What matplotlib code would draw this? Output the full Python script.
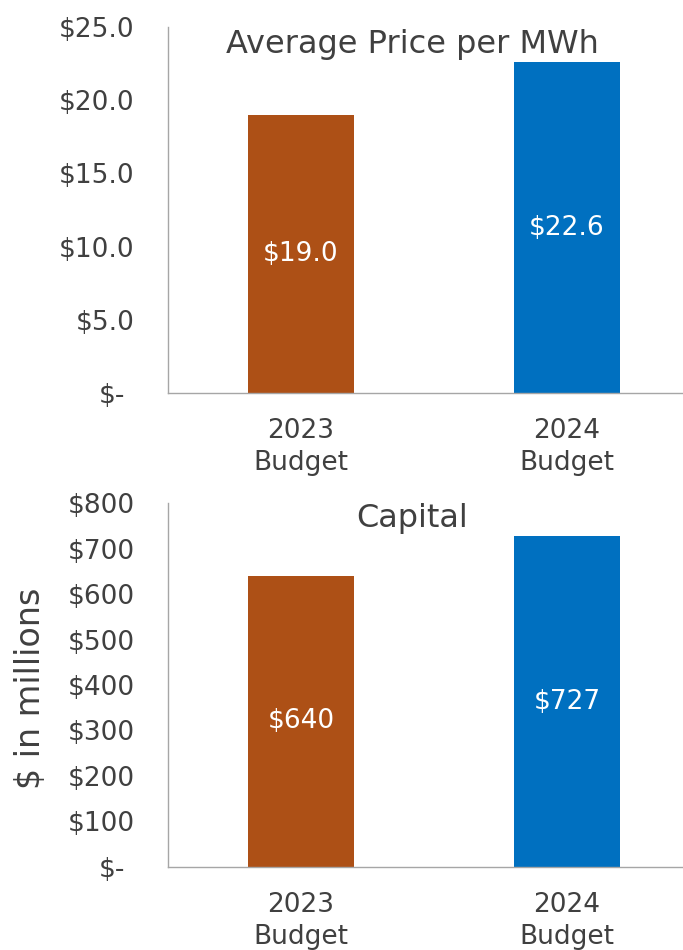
import matplotlib
matplotlib.use("Agg")
import matplotlib.pyplot as plt
from matplotlib.ticker import FuncFormatter

# budget comparison data
categories = ["2023\nBudget", "2024\nBudget"]
price_per_mwh = [19.0, 22.6]
capital_millions = [640, 727]
bar_colors = ["#AD5016", "#0070C0"]

price_ticks = [0, 5, 10, 15, 20, 25]
capital_ticks = [0, 100, 200, 300, 400, 500, 600, 700, 800]

text_color = "#404040"
axis_color = "#A6A6A6"

plt.rcParams["font.family"] = ["DejaVu Sans"]

fig = plt.figure(figsize=(6.83, 9.5), dpi=100)
ax1 = fig.add_axes([0.246, 0.5863, 0.779, 0.3853])
ax2 = fig.add_axes([0.246, 0.0874, 0.779, 0.3831])


def money(decimals):
    def fmt(v, pos):
        if v == 0:
            return "$-"
        return f"${v:,.{decimals}f}"
    return FuncFormatter(fmt)


def style(ax, values, ticks, decimals, label_fmt):
    x = range(len(values))
    bars = ax.bar(x, values, width=0.4, color=bar_colors)
    for b, v in zip(bars, values):
        ax.text(b.get_x() + b.get_width() / 2, v / 2, label_fmt(v),
                ha="center", va="center", color="white", fontsize=19)
    ax.set_xlim(-0.5, 1.5)
    ax.set_ylim(0, ticks[-1])
    ax.set_yticks(ticks)
    ax.yaxis.set_major_formatter(money(decimals))
    ax.set_xticks(list(x))
    ax.set_xticklabels(categories, linespacing=1.3)
    ax.tick_params(axis="both", length=0, labelsize=19, labelcolor=text_color)
    ax.tick_params(axis="y", pad=24)
    ax.tick_params(axis="x", pad=18)
    for s in ("top", "right"):
        ax.spines[s].set_visible(False)
    for s in ("left", "bottom"):
        ax.spines[s].set_color(axis_color)
        ax.spines[s].set_linewidth(1.0)
    # "$-" sits a little further from the axis
    ax.yaxis.get_major_ticks()[0].set_pad(31)


style(ax1, price_per_mwh, price_ticks, 1, lambda v: f"${v:.1f}")
style(ax2, capital_millions, capital_ticks, 0, lambda v: f"${v:,.0f}")

fig.text(412 / 683, 1 - 45 / 950, "Average Price per MWh", ha="center",
         va="center", fontsize=23, color=text_color)
fig.text(412 / 683, 1 - 518 / 950, "Capital", ha="center",
         va="center", fontsize=23, color=text_color)
fig.text(31 / 683, 1 - 688 / 950, "$ in millions", rotation=90, ha="center",
         va="center", fontsize=24, color=text_color)

fig.savefig("out.png", dpi=100)
